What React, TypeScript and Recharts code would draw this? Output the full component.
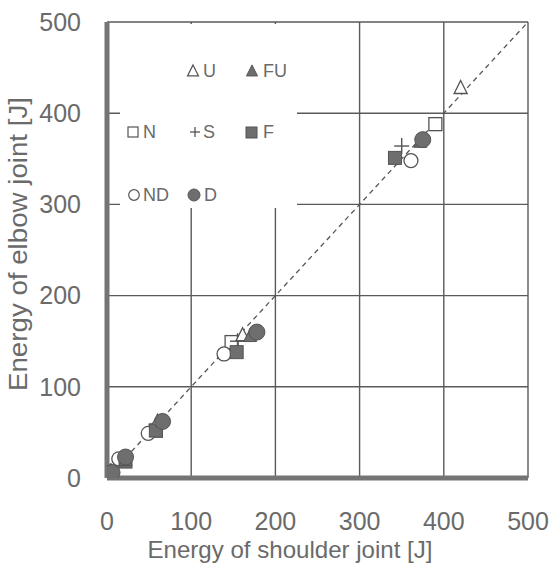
import React from 'react';
import { ScatterChart, Scatter, XAxis, YAxis, CartesianGrid, Legend } from 'recharts';

// ---- data (shoulder energy x, elbow energy y) ----
const axisTicks = [0, 100, 200, 300, 400, 500];

const uX = [4, 18, 60, 161, 420];
const uY = [7, 18, 62, 157, 428];

const fuX = [5, 22, 65, 170, 372];
const fuY = [8, 20, 63, 156, 369];

const nX = [3, 19, 58, 148, 390];
const nY = [6, 19, 52, 149, 388];

const sX = [4, 20, 62, 155, 350];
const sY = [7, 20, 60, 150, 364];

const fX = [5, 22, 58, 154, 342];
const fY = [6, 18, 52, 138, 351];

const ndX = [2, 14, 49, 139, 361];
const ndY = [4, 21, 49, 136, 348];

const dX = [6, 22, 66, 178, 375];
const dY = [6, 23, 62, 160, 371];

const diagX = [0, 500];
const diagY = [0, 500];

const toPoints = (xs: number[], ys: number[]) => xs.map((x, i) => ({ x, y: ys[i] }));

const FILL = '#6e6e6e';
const EDGE = '#545454';
const TEXT = '#6a6a6a';
const FONT = '"Liberation Sans", Arial, sans-serif';

const triPath = (cx: number, cy: number, s: number) =>
  `M${cx},${cy - s * 0.55} L${cx + s / 2},${cy + s * 0.45} L${cx - s / 2},${cy + s * 0.45} Z`;

const OpenTri = (p: any) => <path d={triPath(p.cx, p.cy, 13)} fill="#fff" stroke={EDGE} strokeWidth={1.3} />;
const FillTri = (p: any) => <path d={triPath(p.cx, p.cy, 13)} fill={FILL} stroke={EDGE} strokeWidth={1} />;
const OpenSq = (p: any) => <rect x={p.cx - 6.5} y={p.cy - 6.5} width={13} height={13} fill="#fff" stroke={EDGE} strokeWidth={1.3} />;
const FillSq = (p: any) => <rect x={p.cx - 6.5} y={p.cy - 6.5} width={13} height={13} fill={FILL} stroke={EDGE} strokeWidth={1} />;
const Plus = (p: any) => (
  <g stroke={EDGE} strokeWidth={1.4}>
    <line x1={p.cx - 7.5} y1={p.cy} x2={p.cx + 7.5} y2={p.cy} />
    <line x1={p.cx} y1={p.cy - 8} x2={p.cx} y2={p.cy + 8} />
  </g>
);
const OpenCirc = (p: any) => <circle cx={p.cx} cy={p.cy} r={7} fill="#fff" stroke={EDGE} strokeWidth={1.3} />;
const FillCirc = (p: any) => <circle cx={p.cx} cy={p.cy} r={8} fill={FILL} stroke={EDGE} strokeWidth={1} />;
const NoMark = () => <g />;

const LegendBox = () => (
  <svg width={177} height={184} style={{ display: 'block', fontFamily: FONT }}>
    <g fontSize={18} fill={TEXT}>
      <path d={triPath(73, 47, 11)} fill="#fff" stroke={EDGE} strokeWidth={1.2} />
      <text x={83} y={53}>U</text>
      <path d={triPath(132, 47, 11)} fill={FILL} stroke={EDGE} strokeWidth={1} />
      <text x={143} y={53}>FU</text>

      <rect x={8} y={103} width={10} height={10} fill="#fff" stroke={EDGE} strokeWidth={1.2} />
      <text x={23} y={114}>N</text>
      <g stroke={EDGE} strokeWidth={1.3}>
        <line x1={70} y1={108} x2={80} y2={108} />
        <line x1={75} y1={103} x2={75} y2={113} />
      </g>
      <text x={83} y={114}>S</text>
      <rect x={126} y={103} width={11} height={11} fill={FILL} stroke={EDGE} strokeWidth={1} />
      <text x={143} y={114}>F</text>

      <circle cx={14} cy={171} r={5.3} fill="#fff" stroke={EDGE} strokeWidth={1.2} />
      <text x={23} y={177}>ND</text>
      <circle cx={74} cy={171} r={6} fill={FILL} stroke={EDGE} strokeWidth={1} />
      <text x={84} y={177}>D</text>
    </g>
  </svg>
);

export default function App() {
  return (
    <div style={{ position: 'absolute', left: 0, top: 0, fontFamily: FONT, background: '#fff' }}>
      <ScatterChart width={552} height={566} margin={{ top: 22, right: 24, bottom: 28, left: 47 }}>
        <CartesianGrid stroke="#5a5a5a" strokeWidth={1.4} />
        <XAxis
          type="number"
          dataKey="x"
          domain={[0, 500]}
          ticks={axisTicks}
          interval={0}
          allowDataOverflow
          height={60}
          tickSize={0}
          tickMargin={34}
          axisLine={{ stroke: '#747474', strokeWidth: 5 }}
          tick={{ fill: TEXT, fontSize: 25, fontFamily: FONT }}
          label={() => (
            <text x={290} y={558} textAnchor="middle" fill={TEXT} fontSize={24} fontFamily={FONT} textLength={285} lengthAdjust="spacingAndGlyphs">
              Energy of shoulder joint [J]
            </text>
          )}
        />
        <YAxis
          type="number"
          dataKey="y"
          domain={[0, 500]}
          ticks={axisTicks}
          interval={0}
          allowDataOverflow
          width={60}
          tickSize={0}
          tickMargin={26}
          axisLine={{ stroke: '#747474', strokeWidth: 5 }}
          tick={{ fill: TEXT, fontSize: 25, fontFamily: FONT }}
          label={() => (
            <text
              x={0}
              y={0}
              transform="translate(27,244) rotate(-90)"
              textAnchor="middle"
              fill={TEXT}
              fontSize={25}
              fontFamily={FONT}
              textLength={294}
              lengthAdjust="spacingAndGlyphs"
            >
              Energy of elbow joint [J]
            </text>
          )}
        />
        <Legend
          layout="vertical"
          align="center"
          verticalAlign="middle"
          wrapperStyle={{ left: 120, top: 24, width: 177, height: 184, background: '#fff' }}
          content={() => <LegendBox />}
        />
        <Scatter
          name="diag"
          data={toPoints(diagX, diagY)}
          line={{ stroke: '#555', strokeWidth: 1.3, strokeDasharray: '5 4' }}
          shape={NoMark}
          legendType="none"
          isAnimationActive={false}
        />
        <Scatter name="N" data={toPoints(nX, nY)} shape={OpenSq} isAnimationActive={false} />
        <Scatter name="S" data={toPoints(sX, sY)} shape={Plus} isAnimationActive={false} />
        <Scatter name="U" data={toPoints(uX, uY)} shape={OpenTri} isAnimationActive={false} />
        <Scatter name="ND" data={toPoints(ndX, ndY)} shape={OpenCirc} isAnimationActive={false} />
        <Scatter name="F" data={toPoints(fX, fY)} shape={FillSq} isAnimationActive={false} />
        <Scatter name="FU" data={toPoints(fuX, fuY)} shape={FillTri} isAnimationActive={false} />
        <Scatter name="D" data={toPoints(dX, dY)} shape={FillCirc} isAnimationActive={false} />
      </ScatterChart>
    </div>
  );
}
